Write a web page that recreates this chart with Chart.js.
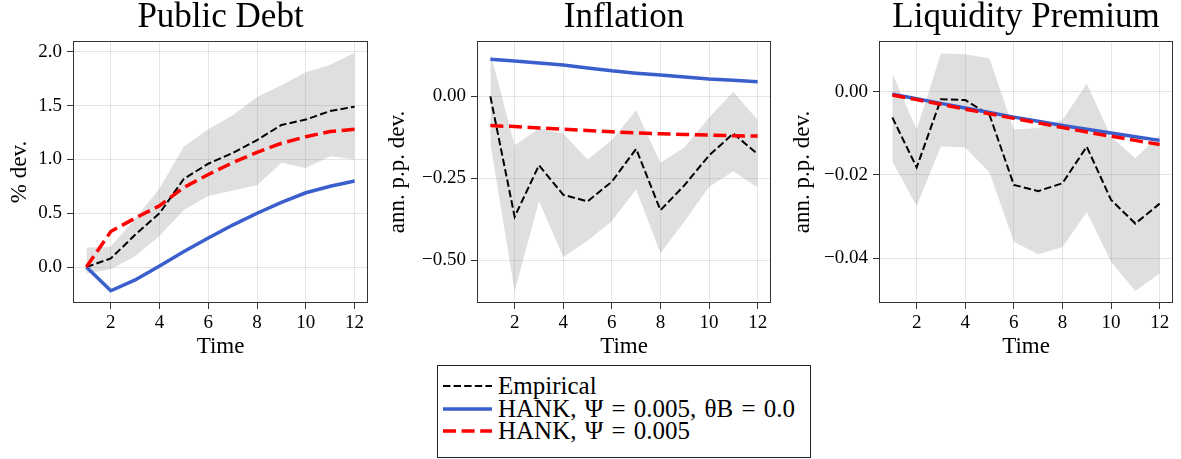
<!DOCTYPE html>
<html>
<head>
<meta charset="utf-8">
<title>Impulse responses</title>
<script src="https://cdn.jsdelivr.net/npm/chart.js@4.4.0/dist/chart.umd.min.js"></script>
<style>
    html, body {
        margin: 0;
        padding: 0;
        width: 1181px;
        height: 459px;
        overflow: hidden;
        background: #fff;
        font-family: "Liberation Serif", serif;
    }
    canvas.panel {
        position: absolute;
        top: 0;
    }
    #legend {
        position: absolute;
        left: 437px;
        top: 365px;
        width: 372px;
        height: 91px;
        border: 1px solid #222;
        background: #fff;
    }
    #legend .row {
        position: absolute;
        left: 5px;
        height: 24px;
        display: flex;
        align-items: center;
        font-size: 25px;
        word-spacing: 2px;
        color: #000;
        white-space: nowrap;
    }
    #legend svg {
        margin-right: 6px;
    }
</style>
</head>
<body>

<canvas class="panel" id="debtChart"></canvas>
<canvas class="panel" id="inflationChart"></canvas>
<canvas class="panel" id="premiumChart"></canvas>

<div id="legend">
    <div class="row" style="top: 8px;">
        <svg width="49" height="10"><line x1="0" y1="5" x2="49" y2="5" stroke="#000" stroke-width="2" stroke-dasharray="7.4 3.2"/></svg>
        <span>Empirical</span>
    </div>
    <div class="row" style="top: 30.5px;">
        <svg width="49" height="10"><line x1="0" y1="5" x2="49" y2="5" stroke="#3a5fcd" stroke-width="3.5"/></svg>
        <span>HANK, Ψ = 0.005, θB = 0.0</span>
    </div>
    <div class="row" style="top: 53px;">
        <svg width="49" height="10"><line x1="0" y1="5" x2="49" y2="5" stroke="#ff0000" stroke-width="3.5" stroke-dasharray="13 5.6"/></svg>
        <span>HANK, Ψ = 0.005</span>
    </div>
</div>

<script>
// Horizon (quarters after the shock)
const time = [1, 2, 3, 4, 5, 6, 7, 8, 9, 10, 11, 12];
const timeTicks = [2, 4, 6, 8, 10, 12];

// Public Debt, % dev.
const debtEmpirical = [0.00, 0.08, 0.30, 0.50, 0.82, 0.96, 1.06, 1.18, 1.32, 1.37, 1.45, 1.49];
const debtUpper     = [0.18, 0.19, 0.45, 0.73, 1.12, 1.28, 1.41, 1.58, 1.69, 1.81, 1.88, 1.99];
const debtLower     = [-0.06, -0.02, 0.10, 0.29, 0.53, 0.66, 0.71, 0.76, 0.97, 0.92, 1.03, 1.00];
const debtHankNoB   = [0.00, -0.22, -0.12, 0.01, 0.145, 0.27, 0.39, 0.50, 0.60, 0.69, 0.75, 0.80];
const debtHank      = [0.00, 0.33, 0.455, 0.57, 0.74, 0.86, 0.97, 1.065, 1.15, 1.21, 1.26, 1.28];
const debtTicks     = [0.0, 0.5, 1.0, 1.5, 2.0];

// Inflation, ann. p.p. dev.
const inflEmpirical = [0.00, -0.367, -0.21, -0.30, -0.32, -0.26, -0.16, -0.347, -0.27, -0.18, -0.113, -0.176];
const inflUpper     = [0.133, -0.149, -0.098, -0.113, -0.192, -0.133, -0.042, -0.203, -0.154, -0.064, 0.014, -0.072];
const inflLower     = [-0.144, -0.594, -0.32, -0.49, -0.44, -0.38, -0.284, -0.478, -0.38, -0.276, -0.228, -0.278];
const inflHankNoB   = [0.113, 0.108, 0.102, 0.096, 0.087, 0.078, 0.071, 0.065, 0.059, 0.053, 0.049, 0.045];
const inflHank      = [-0.089, -0.092, -0.096, -0.100, -0.104, -0.108, -0.111, -0.114, -0.116, -0.118, -0.120, -0.121];
const inflTicks     = [-0.50, -0.25, 0.00];

// Liquidity Premium, ann. p.p. dev.
const premEmpirical = [-0.0062, -0.0182, -0.0018, -0.0020, -0.0056, -0.0224, -0.0239, -0.0220, -0.0132, -0.0260, -0.0317, -0.0269];
const premUpper     = [0.0044, -0.0091, 0.0092, 0.0090, 0.0080, -0.0091, -0.0087, -0.0068, 0.0020, -0.0108, -0.0160, -0.0104];
const premLower     = [-0.0168, -0.0275, -0.0131, -0.0134, -0.0195, -0.0361, -0.0391, -0.0374, -0.0289, -0.0409, -0.0479, -0.0437];
const premHankNoB   = [-0.0006, -0.0017, -0.0028, -0.0039, -0.0050, -0.0061, -0.0071, -0.0081, -0.0090, -0.0099, -0.0108, -0.0117];
const premHank      = [-0.0008, -0.0019, -0.0030, -0.0042, -0.0053, -0.0064, -0.0075, -0.0086, -0.0097, -0.0107, -0.0117, -0.0127];
const premTicks     = [-0.04, -0.02, 0.00];

(function() {
    'use strict';

    const FONT = '"Liberation Serif", serif';
    const MARGIN = 100; // room left/right of each plot area inside its canvas
    const HEIGHT = 365;

    const panels = [
        { id: 'debtChart', title: 'Public Debt', ylabel: '% dev.', left: 73, right: 368,
          labelPad: 35, yMin: -0.334, yMax: 2.10, decimals: 1,
          empirical: debtEmpirical, upper: debtUpper, lower: debtLower,
          hankNoB: debtHankNoB, hank: debtHank, yTicks: debtTicks },
        { id: 'inflationChart', title: 'Inflation', ylabel: 'ann. p.p. dev.', left: 477, right: 771,
          labelPad: 9, yMin: -0.630, yMax: 0.169, decimals: 2,
          empirical: inflEmpirical, upper: inflUpper, lower: inflLower,
          hankNoB: inflHankNoB, hank: inflHank, yTicks: inflTicks },
        { id: 'premiumChart', title: 'Liquidity Premium', ylabel: 'ann. p.p. dev.', left: 879, right: 1173,
          labelPad: 12, yMin: -0.0508, yMax: 0.0122, decimals: 2,
          empirical: premEmpirical, upper: premUpper, lower: premLower,
          hankNoB: premHankNoB, hank: premHank, yTicks: premTicks }
    ];

    // Full box round the plot area, like matplotlib spines
    const framePlugin = {
        id: 'frame',
        afterDraw: function(chart) {
            const {ctx, chartArea: a} = chart;
            ctx.save();
            ctx.strokeStyle = '#333';
            ctx.lineWidth = 1;
            ctx.strokeRect(Math.round(a.left) + 0.5, Math.round(a.top) + 0.5,
                Math.round(a.right - a.left) - 1, Math.round(a.bottom - a.top) - 1);
            ctx.restore();
        }
    };

    function points(values) {
        return time.map((t, i) => ({ x: t, y: values[i] }));
    }

    function fmt(value, decimals) {
        const s = Math.abs(value).toFixed(decimals);
        return (value < -1e-9 ? '\u2212' : '') + s;
    }

    function buildChart(p) {
        const canvas = document.getElementById(p.id);
        const width = (p.right - p.left) + 2 * MARGIN;
        canvas.width = width;
        canvas.height = HEIGHT;
        canvas.style.left = (p.left - MARGIN) + 'px';

        new Chart(canvas, {
            type: 'line',
            data: {
                datasets: [
                    {
                        label: 'HANK, Ψ = 0.005',
                        data: points(p.hank),
                        borderColor: '#ff0000',
                        borderWidth: 3.5,
                        borderDash: [13, 5.6]
                    },
                    {
                        label: 'HANK, Ψ = 0.005, θB = 0.0',
                        data: points(p.hankNoB),
                        borderColor: '#3a5fcd',
                        borderWidth: 3.5
                    },
                    {
                        label: 'Empirical',
                        data: points(p.empirical),
                        borderColor: '#000',
                        borderWidth: 2,
                        borderDash: [7.4, 3.2]
                    },
                    {
                        label: 'upper',
                        data: points(p.upper),
                        borderWidth: 0,
                        borderColor: 'rgba(0,0,0,0)',
                        backgroundColor: 'rgba(128, 128, 128, 0.25)',
                        fill: '+1'
                    },
                    {
                        label: 'lower',
                        data: points(p.lower),
                        borderWidth: 0,
                        borderColor: 'rgba(0,0,0,0)',
                        fill: false
                    }
                ]
            },
            options: {
                responsive: false,
                animation: false,
                events: [],
                layout: { padding: { left: 0, right: MARGIN, top: 0, bottom: 0 } },
                elements: {
                    point: { radius: 0 },
                    line: { tension: 0, borderCapStyle: 'butt' }
                },
                plugins: {
                    legend: { display: false },
                    tooltip: { enabled: false },
                    title: {
                        display: true,
                        fullSize: false,
                        text: p.title,
                        color: '#000',
                        font: { family: FONT, size: 35, weight: 'normal', lineHeight: 1 },
                        padding: { top: 0, bottom: 6 }
                    }
                },
                scales: {
                    x: {
                        type: 'linear',
                        min: 0.45,
                        max: 12.55,
                        afterBuildTicks: function(scale) {
                            scale.ticks = timeTicks.map(v => ({ value: v }));
                        },
                        afterFit: function(scale) {
                            scale.height = HEIGHT - 303;
                            scale.paddingLeft = 0;
                            scale.paddingRight = 0;
                        },
                        border: { display: false },
                        grid: {
                            color: 'rgba(0, 0, 0, 0.1)',
                            tickColor: '#333',
                            tickLength: 6,
                            drawTicks: true
                        },
                        ticks: {
                            color: '#000',
                            padding: 3,
                            maxRotation: 0,
                            autoSkip: false,
                            font: { family: FONT, size: 19 },
                            callback: function(value) { return String(value); }
                        },
                        title: {
                            display: true,
                            text: 'Time',
                            color: '#000',
                            font: { family: FONT, size: 23, lineHeight: 1 },
                            padding: { top: 0, bottom: 7 }
                        }
                    },
                    y: {
                        min: p.yMin,
                        max: p.yMax,
                        afterBuildTicks: function(scale) {
                            scale.ticks = p.yTicks.map(v => ({ value: v }));
                        },
                        afterFit: function(scale) {
                            scale.width = MARGIN;
                            scale.paddingTop = 0;
                            scale.paddingBottom = 0;
                        },
                        border: { display: false },
                        grid: {
                            color: 'rgba(0, 0, 0, 0.1)',
                            tickColor: '#333',
                            tickLength: 6,
                            drawTicks: true
                        },
                        ticks: {
                            color: '#000',
                            padding: 5,
                            autoSkip: false,
                            font: { family: FONT, size: 19 },
                            callback: function(value) { return fmt(value, p.decimals); }
                        },
                        title: {
                            display: true,
                            text: p.ylabel,
                            color: '#000',
                            font: { family: FONT, size: 23, lineHeight: 1 },
                            padding: { top: p.labelPad, bottom: 0 }
                        }
                    }
                }
            },
            plugins: [framePlugin]
        });
    }

    panels.forEach(buildChart);
})();
</script>
</body>
</html>
